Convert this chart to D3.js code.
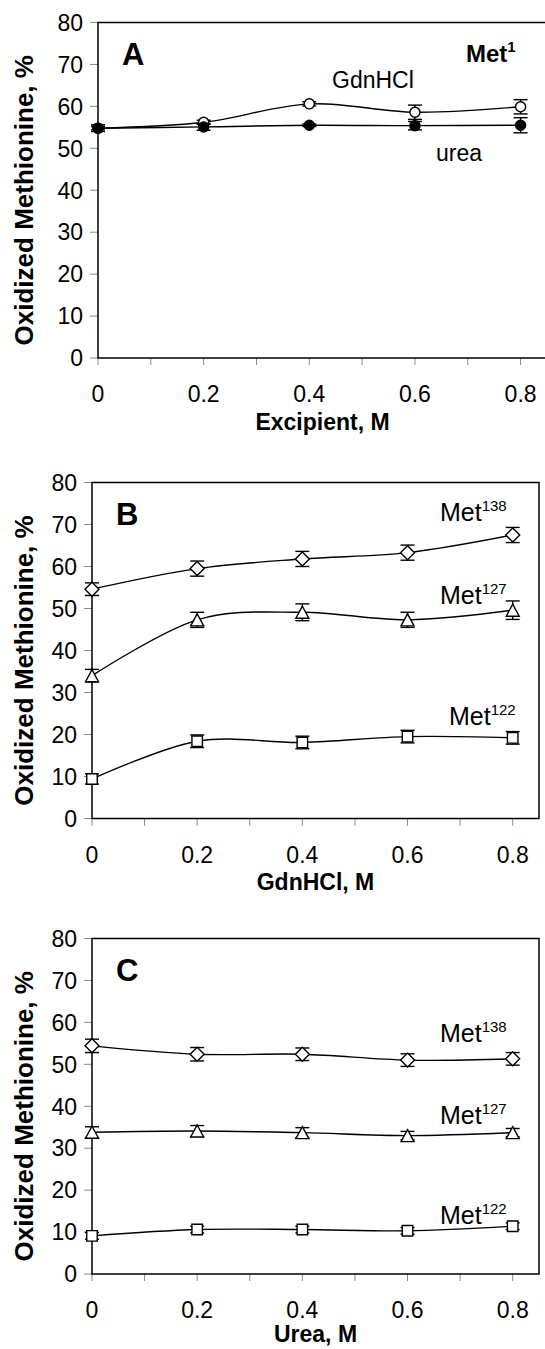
<!DOCTYPE html>
<html>
<head>
<meta charset="utf-8">
<script src="https://cdn.jsdelivr.net/npm/d3@7"></script>
<style>
  html, body { margin: 0; padding: 0; background: #fff; }
  svg { display: block; font-family: "Liberation Sans", Arial, sans-serif; }
</style>
</head>
<body>
<svg id="chart" width="545" height="1349"></svg>
<script>
// ---------- data ----------
const concentrations = [0, 0.2, 0.4, 0.6, 0.8];
const xTickLabels = ["0", "0.2", "0.4", "0.6", "0.8"];
const yTickValues = [0, 10, 20, 30, 40, 50, 60, 70, 80];
const xMinorTicks = [0, 0.1, 0.2, 0.3, 0.4, 0.5, 0.6, 0.7, 0.8];

// Panel A (Met1)
const gdnA = [54.8, 56.2, 60.6, 58.6, 59.9];
const gdnAErr = [0.4, 0.5, 0.5, 1.7, 1.7];
const ureaA = [54.8, 55.1, 55.5, 55.4, 55.5];
const ureaAErr = [0.8, 0.8, 0.3, 1.0, 1.8];

// Panel B (GdnHCl)
const met138B = [54.6, 59.5, 61.8, 63.3, 67.5];
const met138BErr = [1.5, 1.8, 1.8, 1.8, 1.8];
const met127B = [34.0, 47.3, 49.1, 47.3, 49.6];
const met127BErr = [1.5, 1.8, 2.0, 1.8, 2.2];
const met122B = [9.4, 18.4, 18.1, 19.5, 19.2];
const met122BErr = [1.2, 1.5, 1.5, 1.5, 1.5];

// Panel C (Urea)
const met138C = [54.4, 52.4, 52.4, 51.0, 51.3];
const met138CErr = [1.6, 1.6, 1.5, 1.5, 1.5];
const met127C = [33.8, 34.1, 33.7, 33.0, 33.7];
const met127CErr = [1.3, 1.3, 1.2, 1.0, 1.0];
const met122C = [9.1, 10.6, 10.6, 10.3, 11.4];
const met122CErr = [0.8, 0.8, 0.8, 0.8, 0.8];

// ---------- drawing ----------
const svg = d3.select("#chart");

const panels = [
  {
    letter: "A", xTitle: "Excipient, M", titleOffset: 72,
    left: 98, right: 547, top: 22.5, bottom: 358,
    series: [
      { values: gdnA, errs: gdnAErr, marker: "circle", fill: "#fff" },
      { values: ureaA, errs: ureaAErr, marker: "circle", fill: "#000" }
    ],
    labels: [
      { text: "Met", sup: "1", x: 466, y: 62, bold: true, size: 24 },
      { text: "GdnHCl", x: 332, y: 88, size: 23 },
      { text: "urea", x: 436, y: 161, size: 23 }
    ]
  },
  {
    letter: "B", xTitle: "GdnHCl, M", titleOffset: 71,
    left: 92, right: 539, top: 482.5, bottom: 818.5,
    series: [
      { values: met138B, errs: met138BErr, marker: "diamond", fill: "#fff" },
      { values: met127B, errs: met127BErr, marker: "triangle", fill: "#fff" },
      { values: met122B, errs: met122BErr, marker: "square", fill: "#fff" }
    ],
    labels: [
      { text: "Met", sup: "138", x: 440, y: 521, size: 25 },
      { text: "Met", sup: "127", x: 440, y: 604, size: 25 },
      { text: "Met", sup: "122", x: 449, y: 725, size: 25 }
    ]
  },
  {
    letter: "C", xTitle: "Urea, M", titleOffset: 68,
    left: 92, right: 539, top: 938.5, bottom: 1274,
    series: [
      { values: met138C, errs: met138CErr, marker: "diamond", fill: "#fff" },
      { values: met127C, errs: met127CErr, marker: "triangle", fill: "#fff" },
      { values: met122C, errs: met122CErr, marker: "square", fill: "#fff" }
    ],
    labels: [
      { text: "Met", sup: "138", x: 440, y: 1042, size: 25 },
      { text: "Met", sup: "127", x: 440, y: 1124, size: 25 },
      { text: "Met", sup: "122", x: 440, y: 1224, size: 25 }
    ]
  }
];

function markerPath(type) {
  if (type === "circle") return d3.symbol(d3.symbolCircle, 80)();
  if (type === "square") return d3.symbol(d3.symbolSquare, 110)();
  if (type === "triangle") {
    const s = 13, h = 12;
    return `M0,${-h/2}L${s/2},${h/2}L${-s/2},${h/2}Z`;
  }
  const r = 7;
  return `M0,${-r}L${r},0L0,${r}L${-r},0Z`;
}

panels.forEach(p => {
  const x = d3.scaleLinear().domain([0, 0.85]).range([p.left, p.right]);
  const y = d3.scaleLinear().domain([0, 80]).range([p.bottom, p.top]);
  const g = svg.append("g");

  g.selectAll("line.xt").data(xMinorTicks).enter().append("line")
    .attr("x1", d => x(d)).attr("x2", d => x(d))
    .attr("y1", p.bottom).attr("y2", p.bottom + 7)
    .attr("stroke", "#8a8a8a").attr("stroke-width", 1);
  g.selectAll("line.yt").data(yTickValues).enter().append("line")
    .attr("x1", p.left - 8).attr("x2", p.left)
    .attr("y1", d => y(d)).attr("y2", d => y(d))
    .attr("stroke", "#8a8a8a").attr("stroke-width", 1);

  g.append("rect")
    .attr("x", p.left).attr("y", p.top)
    .attr("width", p.right - p.left).attr("height", p.bottom - p.top)
    .attr("fill", "none").attr("stroke", "#000").attr("stroke-width", 1.5);

  g.selectAll("text.yl").data(yTickValues).enter().append("text")
    .attr("x", p.left - 15).attr("y", d => y(d))
    .attr("dy", "0.36em").attr("text-anchor", "end")
    .attr("font-size", 23).text(d => d);
  g.selectAll("text.xl").data(concentrations).enter().append("text")
    .attr("x", d => x(d)).attr("y", p.bottom + 44)
    .attr("text-anchor", "middle").attr("font-size", 23)
    .text((d, i) => xTickLabels[i]);

  g.append("text")
    .attr("x", (p.left + p.right) / 2).attr("y", p.bottom + p.titleOffset)
    .attr("text-anchor", "middle").attr("font-size", 23).attr("font-weight", "bold")
    .text(p.xTitle);
  const cy = (p.top + p.bottom) / 2 + 10;
  g.append("text")
    .attr("transform", `translate(33,${cy}) rotate(-90)`)
    .attr("text-anchor", "middle").attr("font-size", 26).attr("font-weight", "bold")
    .text("Oxidized Methionine, %");

  g.append("text")
    .attr("x", p.left + 24).attr("y", p.top + 42)
    .attr("font-size", 31).attr("font-weight", "bold")
    .text(p.letter);

  const line = d3.line()
    .x((d, i) => x(concentrations[i])).y(d => y(d))
    .curve(d3.curveCardinal.tension(0));

  p.series.forEach(s => {
    g.append("path").attr("d", line(s.values))
      .attr("fill", "none").attr("stroke", "#000").attr("stroke-width", 1.4);
  });
  p.series.forEach(s => {
    const eb = g.append("g").attr("stroke", "#000").attr("stroke-width", 1.4);
    s.values.forEach((v, i) => {
      const cx = x(concentrations[i]);
      const y1 = y(v + s.errs[i]), y2 = y(v - s.errs[i]);
      eb.append("line").attr("x1", cx).attr("x2", cx).attr("y1", y1).attr("y2", y2);
      eb.append("line").attr("x1", cx - 7).attr("x2", cx + 7).attr("y1", y1).attr("y2", y1);
      eb.append("line").attr("x1", cx - 7).attr("x2", cx + 7).attr("y1", y2).attr("y2", y2);
    });
  });
  p.series.forEach(s => {
    g.selectAll(null).data(s.values).enter().append("path")
      .attr("d", markerPath(s.marker))
      .attr("transform", (d, i) => `translate(${x(concentrations[i])},${y(d)})`)
      .attr("fill", s.fill).attr("stroke", "#000").attr("stroke-width", 1.4);
  });

  p.labels.forEach(l => {
    const t = g.append("text").attr("x", l.x).attr("y", l.y)
      .attr("font-size", l.size).attr("font-weight", l.bold ? "bold" : "normal");
    t.append("tspan").text(l.text);
    t.append("tspan").attr("dy", -10).attr("font-size", 15).text(l.sup);
  });
});
</script>
</body>
</html>
